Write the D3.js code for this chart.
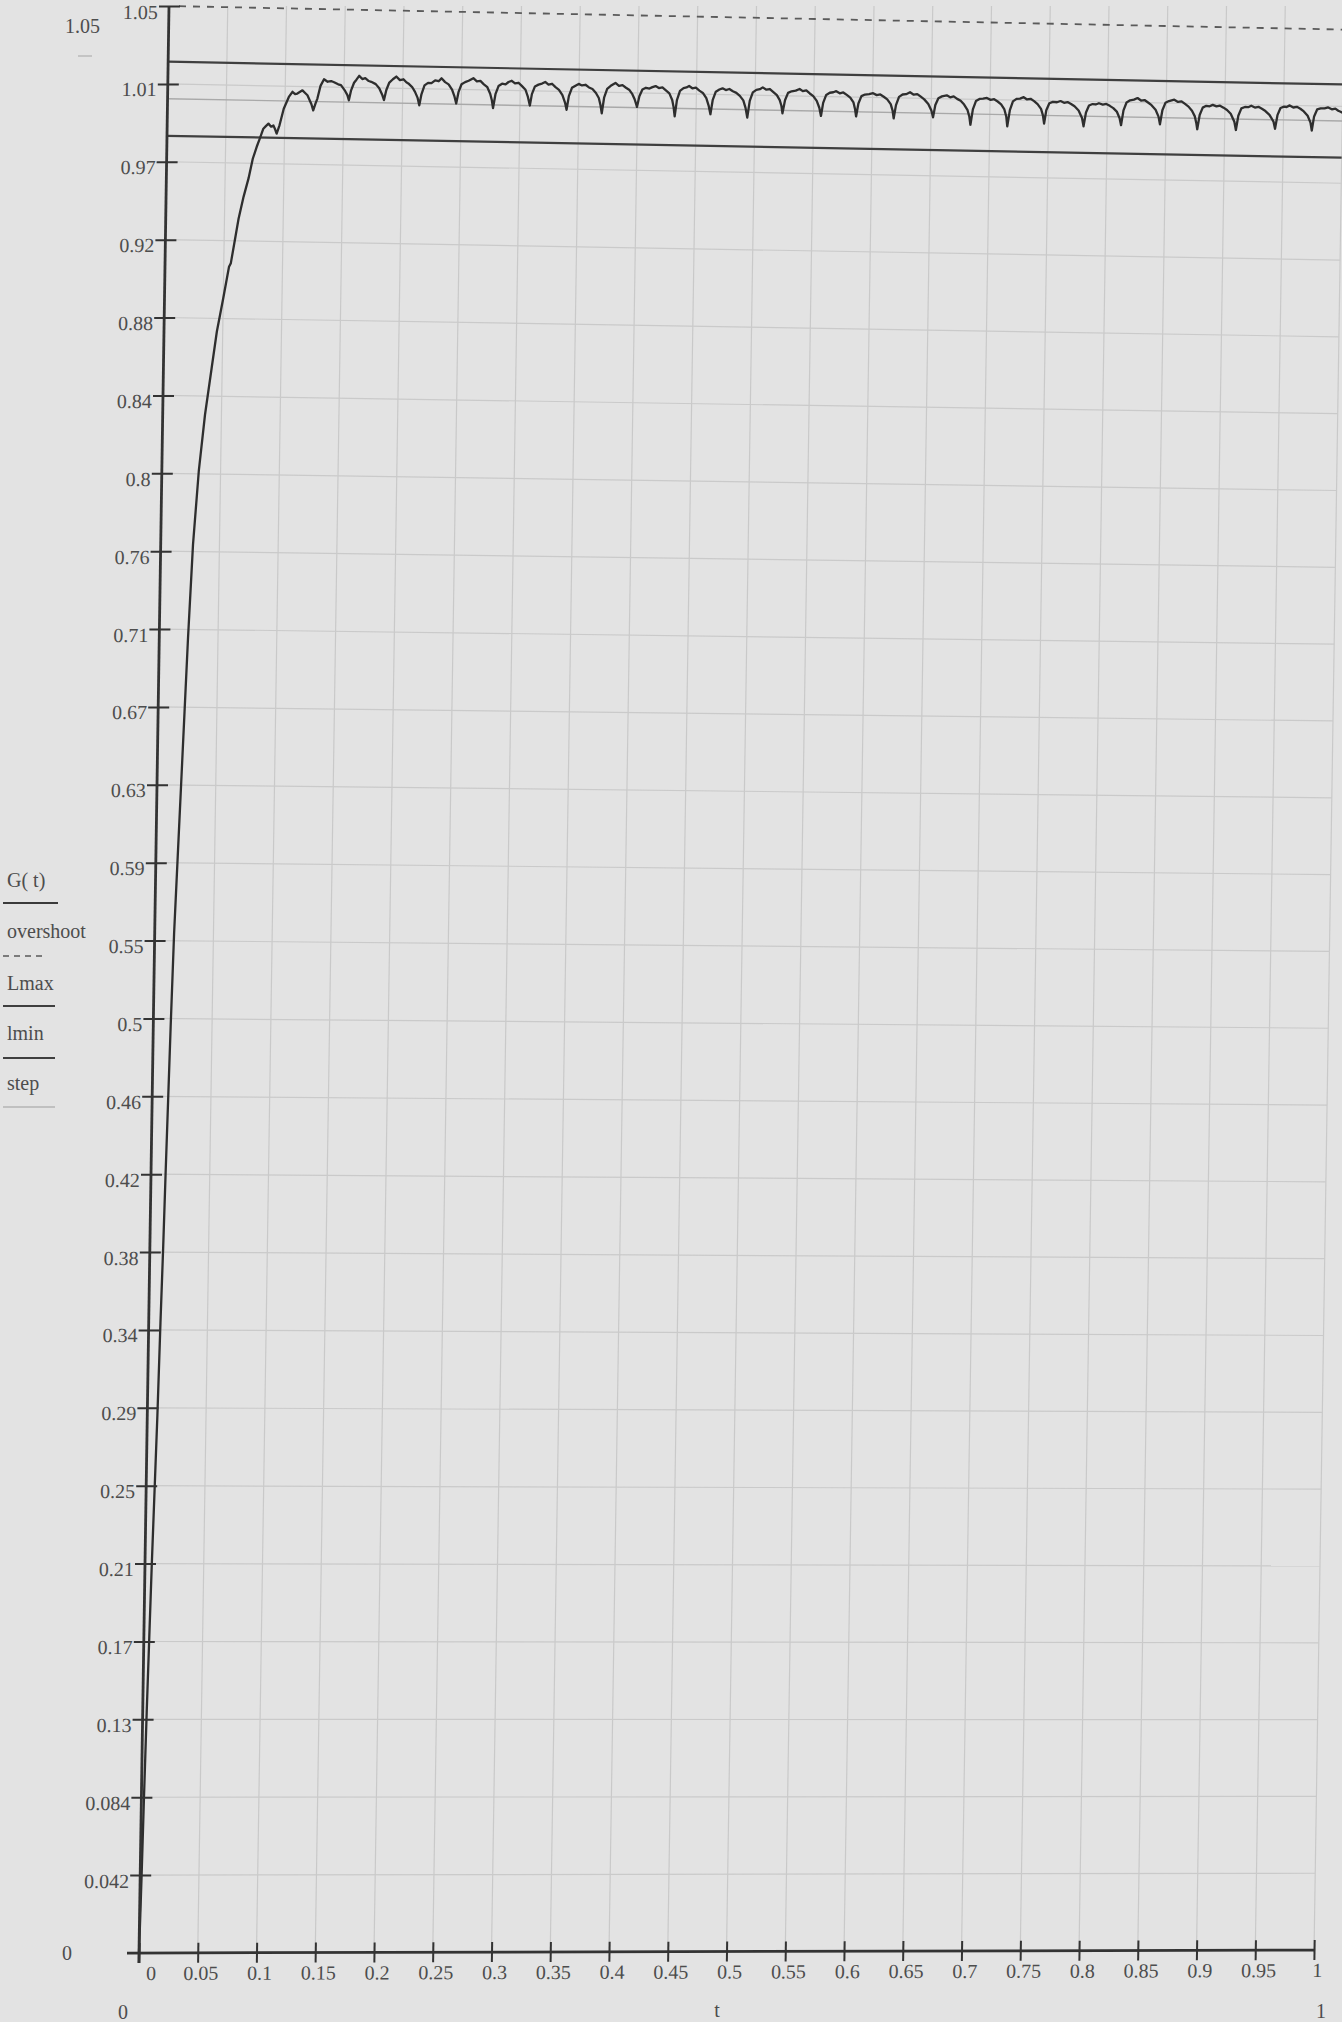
<!DOCTYPE html>
<html><head><meta charset="utf-8">
<script src="https://cdn.jsdelivr.net/npm/d3@7"></script>
<style>html,body{margin:0;padding:0;background:#e3e3e3;}svg{display:block;}</style>
</head><body><svg id="chart" width="1342" height="2022"></svg>
<script>
// ---------------- data ----------------
const xTicks = [0,0.05,0.1,0.15,0.2,0.25,0.3,0.35,0.4,0.45,0.5,0.55,0.6,0.65,0.7,0.75,0.8,0.85,0.9,0.95,1];
const xTickLabels = ["0","0.05","0.1","0.15","0.2","0.25","0.3","0.35","0.4","0.45","0.5","0.55","0.6","0.65","0.7","0.75","0.8","0.85","0.9","0.95","1"];
const yTicks = [0.042,0.084,0.126,0.168,0.21,0.252,0.294,0.336,0.378,0.42,0.462,0.504,0.546,0.588,0.63,0.672,0.714,0.756,0.798,0.84,0.882,0.924,0.966,1.008,1.05];
const yTickLabels = ["0.042","0.084","0.13","0.17","0.21","0.25","0.29","0.34","0.38","0.42","0.46","0.5","0.55","0.59","0.63","0.67","0.71","0.76","0.8","0.84","0.88","0.92","0.97","1.01","1.05"];
const xLimits = [0, 1];
const yLimits = [0, 1.05];
const legendNames = ["G( t)","overshoot","Lmax","lmin","step"];
const refNames = ["overshoot","Lmax","lmin","step"];
const refLevels = [1.05, 1.02, 0.98, 1.0];
const xLabel = "t";
// step response G(t): [t, G]
const responseCurve = [
[0,0],[0.0006,0.02],[0.0012,0.042],[0.0022,0.084],[0.0034,0.13],[0.0046,0.17],[0.0058,0.21],[0.0072,0.25],[0.0086,0.29],[0.0100,0.34],[0.0113,0.38],[0.0124,0.42],[0.0136,0.46],[0.0148,0.50],[0.0165,0.55],[0.0185,0.59],[0.0205,0.63],[0.0225,0.67],[0.0245,0.71],[0.0275,0.76],[0.0315,0.80],[0.0360,0.83],[0.0410,0.855],[0.0450,0.875],[0.0500,0.893],[0.0545,0.91],[0.0560,0.912],[0.0590,0.924],[0.0620,0.936],[0.0660,0.948],[0.0700,0.958],[0.0733,0.9685],[0.0765,0.975],[0.0790,0.9794],[0.0819,0.9848],[0.0840,0.9862],[0.0862,0.9876],[0.0885,0.9860],[0.0904,0.9867],[0.0920,0.9845],[0.0933,0.9823],[0.0956,0.9868],[0.0990,0.9958],[0.1032,1.0022],[0.1062,1.0050],[0.1085,1.0038],[0.1104,1.0041],[0.1147,1.0059],[0.1170,1.0045],[0.1190,1.0033],[0.1225,0.9985],
[0.1241,0.9952],[0.1260,0.9990],[0.1275,1.0016],[0.1300,1.0085],[0.1329,1.0121],[0.1360,1.0108],[0.1390,1.0112],[0.1415,1.0106],[0.1450,1.0095],[0.1474,1.0091],[0.1510,1.0060],[0.1530,1.0038],
[0.1543,1.0010],[0.1560,1.0062],[0.1585,1.0105],[0.1605,1.0122],[0.1628,1.0143],[0.1655,1.0126],[0.1680,1.0131],[0.1710,1.0116],[0.1731,1.0112],[0.1770,1.0100],[0.1800,1.0078],[0.1825,1.0045],
[0.1842,1.0015],[0.1860,1.0068],[0.1885,1.0110],[0.1915,1.0128],[0.1944,1.0143],[0.1975,1.0124],[0.2005,1.0129],[0.2030,1.0113],[0.2047,1.0107],[0.2080,1.0088],[0.2105,1.0062],[0.2128,1.0030],
[0.2143,0.9990],[0.2160,1.0050],[0.2185,1.0098],[0.2215,1.0112],[0.2244,1.0111],[0.2275,1.0126],[0.2305,1.0122],[0.2329,1.0138],[0.2360,1.0118],[0.2390,1.0106],[0.2420,1.0078],[0.2442,1.0040],
[0.2457,1.0004],[0.2475,1.0065],[0.2500,1.0108],[0.2530,1.0120],[0.2560,1.0128],[0.2600,1.0142],[0.2630,1.0125],[0.2660,1.0128],[0.2690,1.0110],[0.2720,1.0095],[0.2745,1.0060],[0.2760,1.0025],
[0.2771,0.9983],[0.2790,1.0058],[0.2815,1.0102],[0.2845,1.0115],[0.2875,1.0112],[0.2900,1.0125],[0.2927,1.0132],[0.2955,1.0118],[0.2985,1.0122],[0.3015,1.0104],[0.3045,1.0085],[0.3065,1.0050],
[0.3084,1.0000],[0.3100,1.0062],[0.3125,1.0104],[0.3155,1.0114],[0.3185,1.0120],[0.3212,1.0129],[0.3240,1.0115],[0.3270,1.0120],[0.3300,1.0102],[0.3330,1.0088],[0.3360,1.0060],[0.3383,1.0020],
[0.3397,0.9981],[0.3415,1.0055],[0.3440,1.0100],[0.3470,1.0112],[0.3497,1.0122],[0.3525,1.0114],[0.3555,1.0118],[0.3585,1.0104],[0.3615,1.0096],[0.3645,1.0075],[0.3670,1.0048],[0.3685,1.0010],
[0.3697,0.9966],[0.3715,1.0050],[0.3740,1.0098],[0.3770,1.0115],[0.3810,1.0131],[0.3840,1.0116],[0.3870,1.0120],[0.3900,1.0106],[0.3930,1.0094],[0.3955,1.0072],[0.3975,1.0045],[0.3988,1.0020],
[0.3996,1.0004],[0.4015,1.0062],[0.4040,1.0098],[0.4070,1.0108],[0.4100,1.0104],[0.4125,1.0112],[0.4152,1.0118],[0.4180,1.0108],[0.4210,1.0112],[0.4240,1.0096],[0.4270,1.0080],[0.4295,1.0045],[0.4308,1.0005],
[0.4318,0.9957],[0.4335,1.0045],[0.4360,1.0095],[0.4390,1.0110],[0.4415,1.0114],[0.4437,1.0122],[0.4465,1.0110],[0.4495,1.0114],[0.4525,1.0098],[0.4555,1.0086],[0.4585,1.0058],[0.4605,1.0020],
[0.4622,0.9972],[0.4640,1.0050],[0.4665,1.0094],[0.4695,1.0106],[0.4722,1.0113],[0.4750,1.0104],[0.4780,1.0110],[0.4810,1.0098],[0.4840,1.0090],[0.4870,1.0074],[0.4900,1.0050],[0.4920,1.0010],
[0.4936,0.9958],[0.4955,1.0048],[0.4980,1.0094],[0.5010,1.0108],[0.5040,1.0112],[0.5064,1.0122],[0.5095,1.0110],[0.5125,1.0114],[0.5155,1.0098],[0.5185,1.0082],[0.5210,1.0055],[0.5225,1.0025],
[0.5235,0.9984],[0.5255,1.0055],[0.5280,1.0095],[0.5310,1.0104],[0.5345,1.0108],[0.5378,1.0117],[0.5405,1.0106],[0.5435,1.0110],[0.5465,1.0094],[0.5495,1.0080],[0.5525,1.0055],[0.5548,1.0018],
[0.5563,0.9974],[0.5580,1.0045],[0.5605,1.0088],[0.5635,1.0100],[0.5665,1.0103],[0.5690,1.0109],[0.5720,1.0098],[0.5750,1.0103],[0.5780,1.0090],[0.5810,1.0076],[0.5838,1.0050],[0.5852,1.0015],
[0.5862,0.9975],[0.5880,1.0045],[0.5905,1.0085],[0.5935,1.0094],[0.5970,1.0097],[0.6004,1.0102],[0.6035,1.0092],[0.6065,1.0096],[0.6095,1.0084],[0.6125,1.0070],[0.6155,1.0045],[0.6172,1.0010],
[0.6182,0.9968],[0.6200,1.0040],[0.6225,1.0085],[0.6255,1.0098],[0.6285,1.0100],[0.6318,1.0111],[0.6350,1.0098],[0.6380,1.0102],[0.6410,1.0088],[0.6440,1.0074],[0.6475,1.0050],[0.6502,1.0015],
[0.6517,0.9978],[0.6535,1.0045],[0.6560,1.0082],[0.6590,1.0092],[0.6631,1.0098],[0.6660,1.0088],[0.6690,1.0093],[0.6720,1.0080],[0.6750,1.0070],[0.6780,1.0050],[0.6810,1.0020],[0.6826,0.9985],
[0.6836,0.9942],[0.6855,1.0025],[0.6880,1.0070],[0.6910,1.0082],[0.6940,1.0084],[0.6973,1.0088],[0.7005,1.0078],[0.7035,1.0082],[0.7065,1.0070],[0.7095,1.0055],[0.7122,1.0030],[0.7140,0.9990],
[0.7150,0.9937],[0.7170,1.0025],[0.7195,1.0072],[0.7225,1.0086],[0.7255,1.0088],[0.7286,1.0096],[0.7315,1.0084],[0.7345,1.0088],[0.7375,1.0076],[0.7405,1.0060],[0.7435,1.0035],[0.7452,1.0000],
[0.7463,0.9956],[0.7480,1.0028],[0.7505,1.0066],[0.7535,1.0074],[0.7570,1.0072],[0.7600,1.0079],[0.7630,1.0070],[0.7660,1.0074],[0.7690,1.0064],[0.7720,1.0052],[0.7755,1.0030],[0.7785,0.9990],
[0.7799,0.9945],[0.7818,1.0020],[0.7843,1.0058],[0.7873,1.0066],[0.7900,1.0064],[0.7927,1.0071],[0.7960,1.0064],[0.7990,1.0068],[0.8020,1.0058],[0.8050,1.0046],[0.8080,1.0028],[0.8105,0.9992],
[0.8118,0.9955],[0.8137,1.0035],[0.8162,1.0078],[0.8192,1.0090],[0.8225,1.0094],[0.8255,1.0103],[0.8285,1.0090],[0.8315,1.0093],[0.8345,1.0080],[0.8375,1.0066],[0.8410,1.0042],[0.8436,1.0005],
[0.8449,0.9964],[0.8468,1.0040],[0.8493,1.0080],[0.8523,1.0090],[0.8568,1.0098],[0.8600,1.0086],[0.8630,1.0090],[0.8660,1.0076],[0.8690,1.0062],[0.8720,1.0040],[0.8745,1.0010],[0.8758,0.9975],
[0.8767,0.9941],[0.8786,1.0018],[0.8811,1.0058],[0.8841,1.0068],[0.8870,1.0066],[0.8896,1.0074],[0.8928,1.0066],[0.8958,1.0070],[0.8988,1.0060],[0.9018,1.0048],[0.9050,1.0028],[0.9082,0.9985],
[0.9096,0.9941],[0.9115,1.0018],[0.9140,1.0058],[0.9170,1.0066],[0.9198,1.0065],[0.9224,1.0073],[0.9255,1.0064],[0.9285,1.0068],[0.9315,1.0058],[0.9345,1.0046],[0.9380,1.0026],[0.9415,0.9990],
[0.9429,0.9951],[0.9448,1.0025],[0.9473,1.0064],[0.9503,1.0072],[0.9525,1.0070],[0.9551,1.0079],[0.9582,1.0068],[0.9612,1.0072],[0.9642,1.0062],[0.9672,1.0048],[0.9705,1.0025],[0.9730,0.9988],
[0.9742,0.9946],[0.9760,1.0022],[0.9785,1.0060],[0.9815,1.0066],[0.9848,1.0066],[0.9879,1.0072],[0.9910,1.0062],[0.9940,1.0066],[0.9965,1.0055],[0.9985,1.0050],[1.0000,1.0045]
];

// ---------------- layout ----------------
const W = 1175, H = 1947;
const originTopX = 169, topY = 6;
const lean = 30 / H;              // photo: the y axis leans to the right towards the top
const slopeAt = v => -0.0025 + 0.0215 * v;   // photo: horizontal lines tilt more near the top
const deg = s => Math.atan(s) * 180 / Math.PI;
const FONT = "'Liberation Serif','Times New Roman',serif";
const TXT = "#4d4d4d";

const svg = d3.select("#chart");
svg.append("rect").attr("width",1342).attr("height",2022).attr("fill","#e3e3e3");

const x = d3.scaleLinear().domain(xLimits).range([0, W]);
const y = d3.scaleLinear().domain(yLimits).range([H, 0]);

const g = svg.append("g").attr("transform", `matrix(1,0,${-lean},1,${originTopX},${topY})`);

// vertical grid
g.append("g").selectAll("line").data(xTicks.slice(1)).join("line")
  .attr("x1", d => x(d)).attr("x2", d => x(d))
  .attr("y1", y(0)).attr("y2", y(1.05))
  .attr("stroke", "#c9c9c9").attr("stroke-width", 1.2);

// horizontal grid
g.append("g").selectAll("line").data(yTicks.slice(0, -1)).join("line")
  .attr("transform", d => `skewY(${deg(slopeAt(d))})`)
  .attr("x1", 0).attr("x2", x(1))
  .attr("y1", d => y(d)).attr("y2", d => y(d))
  .attr("stroke", "#cacaca").attr("stroke-width", 1.2);

// reference lines
const refStyle = {
  overshoot: {stroke:"#5a5a5a", w:1.8, dash:"7,7"},
  Lmax: {stroke:"#3f3f3f", w:2.2, dash:null},
  lmin: {stroke:"#3f3f3f", w:2.2, dash:null},
  step: {stroke:"#a9a9a9", w:1.4, dash:null}
};
refNames.forEach((name, i) => {
  const st = refStyle[name];
  g.append("line")
    .attr("transform", `skewY(${deg(slopeAt(refLevels[i]))})`)
    .attr("x1", x(0) + (name === "overshoot" ? 10 : 0)).attr("x2", x(1))
    .attr("y1", y(refLevels[i])).attr("y2", y(refLevels[i]))
    .attr("stroke", st.stroke).attr("stroke-width", st.w)
    .attr("stroke-dasharray", st.dash);
});

// response curve
g.append("path").datum(responseCurve)
  .attr("transform", `skewY(${deg(slopeAt(1.0))})`)
  .attr("fill", "none").attr("stroke", "#2e2e2e").attr("stroke-width", 2.3)
  .attr("stroke-linejoin", "round")
  .attr("d", d3.line().x(d => x(d[0])).y(d => y(d[1])));

// y axis
const yAxis = g.append("g")
  .call(d3.axisLeft(y).tickValues(yTicks).tickFormat((d, i) => yTickLabels[i]).tickSizeOuter(0));
yAxis.select(".domain").attr("stroke", "#333").attr("stroke-width", 2.8)
  .attr("d", `M0,${H + 10}V0`);
yAxis.selectAll(".tick line").attr("x1", -10).attr("x2", 11).attr("stroke", "#333").attr("stroke-width", 2);
yAxis.selectAll(".tick text").attr("x", -11).attr("dy", "12px")
  .attr("font-family", FONT).attr("font-size", 20).attr("fill", TXT);

// x axis
const xAxis = g.append("g")
  .attr("transform", `skewY(${deg(slopeAt(0))}) translate(0,${H})`)
  .call(d3.axisBottom(x).tickValues(xTicks).tickFormat((d, i) => xTickLabels[i]).tickSizeOuter(0));
xAxis.select(".domain").attr("stroke", "#333").attr("stroke-width", 2.8).attr("d", `M-12,0H${W}`);
xAxis.selectAll(".tick line").attr("y1", -10).attr("y2", 10).attr("stroke", "#333").attr("stroke-width", 2);
xAxis.selectAll(".tick text").attr("y", 27).attr("dy", 0)
  .attr("dx", d => d === 0 ? 12 : 3)
  .attr("font-family", FONT).attr("font-size", 20).attr("fill", TXT);

// limit labels & axis label (outside the plot frame)
const addText = (txt, px, py, anchor) => svg.append("text").text(txt)
  .attr("x", px).attr("y", py).attr("text-anchor", anchor || "start")
  .attr("font-family", FONT).attr("font-size", 20).attr("fill", TXT);
addText(String(yLimits[1]), 65, 33);
svg.append("line").attr("x1", 78).attr("x2", 92).attr("y1", 56).attr("y2", 56)
  .attr("stroke", "#c4c4c4").attr("stroke-width", 2);
addText(String(yLimits[0]), 67, 1960, "middle");
addText(String(xLimits[0]), 123, 2019, "middle");
addText(xLabel, 717, 2017, "middle");
addText(String(xLimits[1]), 1321, 2018, "middle");

// legend (stacked at the left, Mathcad style)
const legendBase = [887, 938, 990, 1040, 1090];
const legendLineY = [903, 956, 1006, 1058, 1107];
const legendStyle = [
  {stroke:"#3a3a3a", w:1.8, dash:null, x2:58},
  {stroke:"#5a5a5a", w:1.6, dash:"6,5", x2:47},
  {stroke:"#3f3f3f", w:1.8, dash:null, x2:55},
  {stroke:"#3f3f3f", w:1.8, dash:null, x2:55},
  {stroke:"#b4b4b4", w:1.4, dash:null, x2:55}
];
legendNames.forEach((name, i) => {
  addText(name, 7, legendBase[i]);
  svg.append("line").attr("x1", 3).attr("x2", legendStyle[i].x2)
    .attr("y1", legendLineY[i]).attr("y2", legendLineY[i])
    .attr("stroke", legendStyle[i].stroke).attr("stroke-width", legendStyle[i].w)
    .attr("stroke-dasharray", legendStyle[i].dash);
});
</script></body></html>
